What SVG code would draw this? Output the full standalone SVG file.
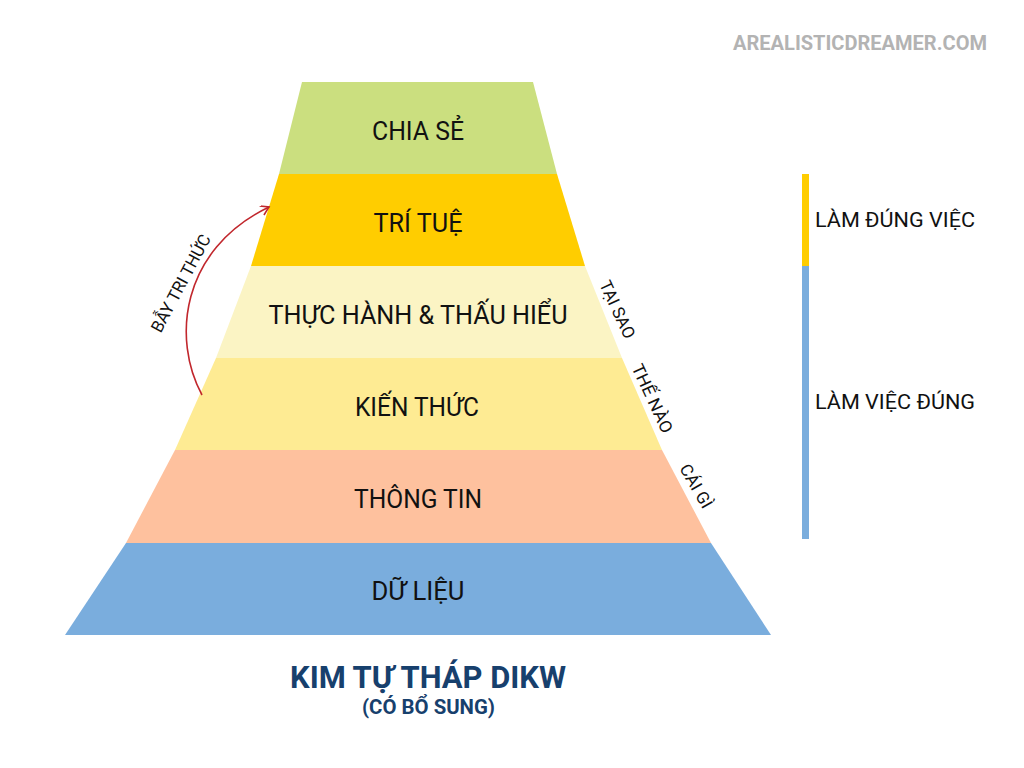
<svg xmlns="http://www.w3.org/2000/svg" width="1024" height="768" viewBox="0 0 1024 768">
<style>
text{font-family:"Roboto","Noto Sans","Liberation Sans",sans-serif;fill:#111}
.l{font-size:26px;text-anchor:middle}
.s{font-size:21px}
.r{font-size:17px;text-anchor:middle}
</style>
<defs><marker id="a" markerWidth="12" markerHeight="12" refX="9" refY="5" orient="auto" markerUnits="userSpaceOnUse"><path d="M1 0L9 5L1 10" fill="none" stroke="#c1272d" stroke-width="1.6"/></marker></defs>
<rect width="1024" height="768" fill="#fff"/>
<text x="860" y="50" text-anchor="middle" textLength="254" lengthAdjust="spacingAndGlyphs" style="font-size:20px;font-weight:700;fill:#b3b3b3">AREALISTICDREAMER.COM</text>
<g id="chia-se"><polygon points="302,82 533,82 557,174 279,174" fill="#cbdf7f"/><text class="l" x="418" y="140" textLength="92" lengthAdjust="spacingAndGlyphs">CHIA SẺ</text></g>
<g id="tri-tue"><polygon points="279,174 557,174 585,266 251,266" fill="#ffcd00"/><text class="l" x="418" y="232" textLength="89" lengthAdjust="spacingAndGlyphs">TRÍ TUỆ</text></g>
<g id="thuc-hanh"><polygon points="251,266 585,266 622,358 216,358" fill="#fbf4c4"/><text class="l" x="418" y="324" textLength="299" lengthAdjust="spacingAndGlyphs">THỰC HÀNH &amp; THẤU HIỂU</text></g>
<g id="kien-thuc"><polygon points="216,358 622,358 662,450 175,450" fill="#feeb93"/><text class="l" x="417" y="416" textLength="124" lengthAdjust="spacingAndGlyphs">KIẾN THỨC</text></g>
<g id="thong-tin"><polygon points="175,450 662,450 711,543 126,543" fill="#fec19e"/><text class="l" x="418" y="508" textLength="128" lengthAdjust="spacingAndGlyphs">THÔNG TIN</text></g>
<g id="du-lieu"><polygon points="126,543 711,543 771,635 65,635" fill="#7aaddd"/><text class="l" x="418" y="600" textLength="93" lengthAdjust="spacingAndGlyphs">DỮ LIỆU</text></g>
<g id="connectors"><path d="M202 395C172 340 180 250 269 207" fill="none" stroke="#c1272d" stroke-width="1.6" marker-end="url(#a)"/></g>
<text class="r" transform="translate(186 286) rotate(-62)" textLength="108" lengthAdjust="spacingAndGlyphs">BẪY TRI THỨC</text>
<text class="r" transform="translate(612 312) rotate(65)" textLength="62" lengthAdjust="spacingAndGlyphs">TẠI SAO</text>
<text class="r" transform="translate(647 401) rotate(65)" textLength="74" lengthAdjust="spacingAndGlyphs">THẾ NÀO</text>
<text class="r" transform="translate(691 489) rotate(60)" textLength="48" lengthAdjust="spacingAndGlyphs">CÁI GÌ</text>
<g id="bars"><rect x="802" y="174" width="7" height="92" fill="#ffcd00"/><rect x="802" y="266" width="7" height="273" fill="#7aaddd"/></g>
<text class="s" x="815" y="227" textLength="160" lengthAdjust="spacingAndGlyphs">LÀM ĐÚNG VIỆC</text>
<text class="s" x="815" y="409" textLength="160" lengthAdjust="spacingAndGlyphs">LÀM VIỆC ĐÚNG</text>
<text x="428" y="688" text-anchor="middle" textLength="276" lengthAdjust="spacingAndGlyphs" style="font-size:32px;font-weight:700;fill:#17406d">KIM TỰ THÁP DIKW</text>
<text x="428.500" y="714" text-anchor="middle" textLength="133" lengthAdjust="spacingAndGlyphs" style="font-size:21px;font-weight:700;fill:#17406d">(CÓ BỔ SUNG)</text>
</svg>
